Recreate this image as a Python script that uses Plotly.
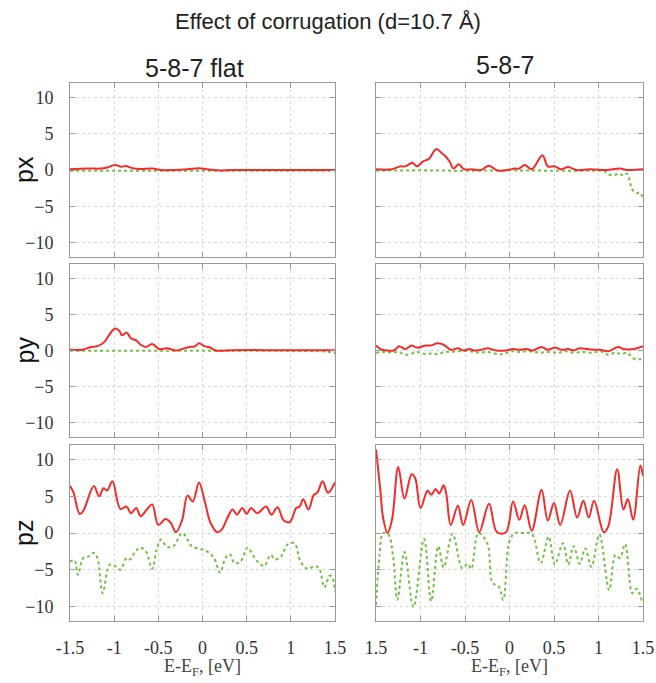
import plotly.graph_objects as go
from plotly.subplots import make_subplots

# ---------------- data (energy in eV, DOS values) ----------------
# Row px, flat
px_flat_red_x = [-1.5, -1.30, -1.15, -1.08, -0.99, -0.92, -0.87, -0.79, -0.70, -0.57, -0.47, -0.32, -0.17, -0.04, 0.05, 0.17, 0.35, 0.8, 1.2, 1.5]
px_flat_red_y = [0.1, 0.2, 0.2, 0.35, 0.7, 0.45, 0.55, 0.25, 0.15, 0.2, 0.0, 0.0, 0.1, 0.25, 0.1, -0.05, 0.0, 0.0, 0.0, 0.0]
px_flat_grn_x = [-1.5, -1.0, -0.5, 0.0, 0.5, 1.0, 1.5]
px_flat_grn_y = [-0.1, -0.1, -0.1, -0.1, -0.1, -0.1, -0.1]

# Row px, corrugated
px_corr_red_x = [-1.50, -1.32, -1.23, -1.17, -1.09, -1.04, -0.97, -0.91, -0.82, -0.76, -0.72, -0.67, -0.63, -0.57, -0.51, -0.42, -0.32, -0.23, -0.14, -0.04, 0.06, 0.11, 0.17, 0.25, 0.37, 0.43, 0.51, 0.58, 0.66, 0.75, 0.91, 1.09, 1.24, 1.32, 1.50]
px_corr_red_y = [0.1, 0.1, 0.5, 0.5, 1.0, 0.5, 1.2, 1.5, 2.9, 2.3, 1.9, 1.1, 0.2, 0.8, 0.1, 0.1, 0.0, 0.6, -0.05, -0.05, 0.2, 0.2, 0.7, 0.1, 2.05, 0.5, 0.5, 0.1, 0.4, 0.0, 0.1, 0.0, 0.2, 0.0, 0.1]
px_corr_grn_x = [-1.5, -1.0, -0.5, 0.0, 0.5, 1.0, 1.06, 1.11, 1.17, 1.24, 1.28, 1.32, 1.38, 1.43, 1.46, 1.50]
px_corr_grn_y = [-0.1, -0.05, -0.1, -0.05, -0.1, -0.1, -0.1, -0.6, -0.7, -0.5, -0.8, -0.5, -2.7, -3.2, -3.1, -3.8]

# Row py, flat
py_flat_red_x = [-1.50, -1.36, -1.26, -1.19, -1.11, -1.06, -0.99, -0.94, -0.91, -0.86, -0.81, -0.75, -0.70, -0.64, -0.57, -0.49, -0.40, -0.30, -0.23, -0.15, -0.09, -0.04, 0.02, 0.08, 0.15, 0.34, 0.72, 1.09, 1.50]
py_flat_red_y = [0.1, 0.1, 0.5, 0.6, 1.2, 2.1, 3.05, 2.7, 2.1, 2.5, 1.7, 1.4, 0.8, 0.5, 0.9, 0.2, 0.3, 0.0, 0.2, 0.5, 0.55, 1.0, 0.6, 0.45, 0.0, 0.05, 0.05, 0.05, 0.05]
py_flat_grn_x = [-1.5, -0.5, 0.0, 0.5, 1.0, 1.4, 1.5]
py_flat_grn_y = [-0.05, -0.05, -0.05, -0.05, -0.05, -0.15, -0.35]

# Row py, corrugated
py_corr_red_x = [-1.50, -1.45, -1.38, -1.30, -1.24, -1.17, -1.10, -1.04, -0.94, -0.88, -0.81, -0.74, -0.66, -0.58, -0.52, -0.45, -0.40, -0.32, -0.25, -0.15, -0.04, 0.04, 0.11, 0.19, 0.26, 0.36, 0.43, 0.51, 0.58, 0.66, 0.72, 0.79, 0.87, 0.94, 1.02, 1.11, 1.22, 1.28, 1.40, 1.50]
py_corr_red_y = [0.7, 0.2, 0.0, 0.0, 0.6, 0.2, 0.7, 0.4, 0.7, 0.7, 1.0, 0.8, 0.1, 0.3, 0.0, 0.2, 0.0, 0.1, 0.3, 0.0, 0.0, 0.2, 0.1, 0.2, 0.0, 0.5, 0.1, 0.4, 0.1, 0.2, 0.0, 0.3, 0.2, 0.1, 0.1, -0.1, 0.5, 0.2, 0.2, 0.6]
py_corr_grn_x = [-1.50, -1.40, -1.32, -1.25, -1.17, -1.09, -1.04, -0.94, -0.87, -0.79, -0.74, -0.66, -0.57, -0.45, -0.34, -0.25, -0.13, -0.06, 0.02, 0.11, 0.23, 0.34, 0.43, 0.55, 0.62, 0.72, 0.83, 0.94, 1.02, 1.11, 1.19, 1.26, 1.32, 1.39, 1.45, 1.50]
py_corr_grn_y = [-0.3, -0.2, -0.3, -0.2, -0.6, -0.4, -0.2, -0.5, -0.4, -0.5, -0.2, -0.2, -0.1, -0.1, -0.3, -0.2, -0.5, -0.5, -0.1, -0.2, -0.1, -0.3, -0.2, -0.3, -0.1, -0.3, -0.2, -0.3, -0.1, -0.6, -0.3, -0.5, -0.3, -1.1, -1.2, -1.2]

# Row pz, flat
pz_flat_red_x = [-1.50, -1.46, -1.39, -1.35, -1.23, -1.17, -1.12, -1.08, -1.02, -0.93, -0.86, -0.81, -0.75, -0.70, -0.63, -0.57, -0.50, -0.42, -0.36, -0.30, -0.23, -0.17, -0.11, -0.04, 0.03, 0.09, 0.17, 0.22, 0.28, 0.34, 0.39, 0.45, 0.50, 0.55, 0.62, 0.72, 0.78, 0.85, 0.92, 0.99, 1.06, 1.10, 1.14, 1.20, 1.26, 1.30, 1.36, 1.42, 1.50]
pz_flat_red_y = [6.45, 5.5, 2.6, 3.0, 6.4, 5.0, 6.1, 5.8, 7.05, 3.3, 3.6, 2.7, 3.4, 2.3, 3.2, 3.9, 1.1, 1.9, 1.4, 0.1, 1.8, 5.1, 4.3, 6.9, 4.1, 1.4, 0.1, 0.5, 2.0, 3.2, 2.5, 3.4, 2.6, 3.4, 2.7, 3.6, 2.5, 3.5, 1.7, 1.5, 3.4, 3.6, 4.6, 3.2, 5.2, 5.5, 7.05, 5.5, 6.9]
pz_flat_grn_x = [-1.50, -1.45, -1.41, -1.35, -1.29, -1.23, -1.19, -1.13, -1.05, -0.99, -0.93, -0.86, -0.82, -0.76, -0.70, -0.64, -0.57, -0.52, -0.47, -0.40, -0.33, -0.23, -0.17, -0.12, -0.02, 0.05, 0.13, 0.20, 0.26, 0.31, 0.36, 0.43, 0.51, 0.58, 0.64, 0.70, 0.77, 0.82, 0.89, 0.96, 1.04, 1.11, 1.19, 1.27, 1.32, 1.38, 1.44, 1.47, 1.50]
pz_flat_grn_y = [-3.9, -3.7, -5.7, -3.4, -3.2, -2.7, -3.4, -8.2, -4.3, -4.5, -5.0, -3.4, -3.6, -2.5, -2.0, -2.5, -4.9, -2.3, -0.9, -1.9, -1.8, 0.0, -0.9, -1.8, -2.2, -2.5, -3.4, -5.4, -3.4, -2.9, -4.1, -3.9, -2.0, -3.2, -4.1, -4.5, -3.0, -3.6, -3.2, -1.6, -1.4, -3.9, -4.9, -4.5, -4.8, -7.4, -5.8, -6.1, -8.0]

# Row pz, corrugated
pz_corr_red_x = [-1.50, -1.45, -1.42, -1.37, -1.32, -1.25, -1.18, -1.10, -1.06, -1.00, -0.92, -0.88, -0.83, -0.79, -0.74, -0.71, -0.66, -0.58, -0.52, -0.43, -0.34, -0.23, -0.14, -0.04, 0.04, 0.11, 0.17, 0.25, 0.36, 0.43, 0.50, 0.57, 0.68, 0.76, 0.83, 0.89, 0.95, 1.06, 1.11, 1.21, 1.28, 1.33, 1.39, 1.47, 1.50]
pz_corr_red_y = [11.4, 5.7, 2.05, 0.0, 1.8, 9.0, 4.7, 8.0, 7.5, 3.4, 5.8, 5.2, 6.0, 5.4, 6.5, 5.3, 1.1, 3.7, 1.1, 4.5, 0.1, 4.0, 0.1, 0.1, 4.3, 1.8, 3.8, 0.3, 5.9, 1.7, 4.1, 1.1, 5.8, 2.1, 4.4, 2.1, 4.4, 0.1, 0.9, 8.7, 3.2, 4.6, 1.8, 9.2, 7.8]
pz_corr_grn_x = [-1.50, -1.46, -1.42, -1.36, -1.31, -1.26, -1.18, -1.08, -0.96, -0.88, -0.80, -0.74, -0.64, -0.53, -0.47, -0.43, -0.35, -0.25, -0.19, -0.12, -0.07, 0.00, 0.06, 0.15, 0.25, 0.35, 0.44, 0.51, 0.60, 0.66, 0.72, 0.79, 0.85, 0.92, 1.01, 1.12, 1.19, 1.24, 1.30, 1.38, 1.43, 1.49]
pz_corr_grn_y = [-9.8, -3.0, 0.0, -0.2, -3.0, -9.1, -2.6, -10.1, -0.8, -9.3, -1.8, -4.7, -0.1, -4.8, -4.2, -4.9, 0.0, -1.4, -6.8, -7.3, -9.1, -1.1, 0.0, 0.0, -0.1, -4.1, -0.5, -4.3, -1.4, -4.3, -1.8, -4.2, -2.1, -4.6, -0.2, -7.8, -3.0, -3.4, -1.5, -8.2, -7.6, -9.4]

row_labels = ["px", "py", "pz"]
col_titles = ["5-8-7 flat", "5-8-7"]
main_title = "Effect of corrugation (d=10.7 Å)"
x_title = "E-E<sub>F</sub>, [eV]"
x_tickvals = [-1.5, -1, -0.5, 0, 0.5, 1, 1.5]
x_ticktext_left = ["-1.5", "-1", "-0.5", "0", "0.5", "1", "1.5"]
x_ticktext_right = ["1.5", "-1", "-0.5", "0", "0.5", "1", "1.5"]
y_tickvals = [-10, -5, 0, 5, 10]

panels = [
    [(px_flat_red_x, px_flat_red_y, px_flat_grn_x, px_flat_grn_y),
     (px_corr_red_x, px_corr_red_y, px_corr_grn_x, px_corr_grn_y)],
    [(py_flat_red_x, py_flat_red_y, py_flat_grn_x, py_flat_grn_y),
     (py_corr_red_x, py_corr_red_y, py_corr_grn_x, py_corr_grn_y)],
    [(pz_flat_red_x, pz_flat_red_y, pz_flat_grn_x, pz_flat_grn_y),
     (pz_corr_red_x, pz_corr_red_y, pz_corr_grn_x, pz_corr_grn_y)],
]

RED = "#f52a2a"
GREEN = "#72c043"
W, H = 656, 683

fig = make_subplots(rows=3, cols=2)

col_x = [(70, 335), (376, 643)]
row_y = [(83, 257), (264, 437), (445, 621)]

for r in range(3):
    for c in range(2):
        rx, ry, gx, gy = panels[r][c]
        fig.add_trace(go.Scatter(x=gx, y=gy, mode="lines", line=dict(color=GREEN, width=2, dash="dot", shape="spline", smoothing=1.0),
                                 showlegend=False, hoverinfo="skip"), row=r + 1, col=c + 1)
        fig.add_trace(go.Scatter(x=rx, y=ry, mode="lines", line=dict(color=RED, width=2, shape="spline", smoothing=1.0),
                                 showlegend=False, hoverinfo="skip"), row=r + 1, col=c + 1)
        x0, x1 = col_x[c]
        y0, y1 = row_y[r]
        xd = [x0 / W, x1 / W]
        yd = [1 - y1 / H, 1 - y0 / H]
        fig.update_xaxes(domain=xd, range=[-1.5, 1.5], tickvals=x_tickvals,
                         ticktext=(x_ticktext_left if c == 0 else x_ticktext_right),
                         showticklabels=(r == 2), ticks="inside", ticklen=5, tickcolor="#999",
                         mirror="allticks", showline=True, linecolor="#999", linewidth=1,
                         showgrid=True, gridcolor="#d8d8d8", griddash="dot", gridwidth=1,
                         zeroline=False, automargin=False, ticklabelstandoff=10,
                         tickfont=dict(family="Liberation Serif", size=18, color="#333"),
                         row=r + 1, col=c + 1)
        fig.update_yaxes(domain=yd, range=[-12, 12], tickvals=y_tickvals,
                         showticklabels=(c == 0), ticks="inside", ticklen=5, tickcolor="#999",
                         mirror="allticks", showline=True, linecolor="#999", linewidth=1,
                         showgrid=True, gridcolor="#d8d8d8", griddash="dot", gridwidth=1,
                         zeroline=False, automargin=False, ticklabelstandoff=12,
                         tickfont=dict(family="Liberation Serif", size=18, color="#333"),
                         row=r + 1, col=c + 1)

# row labels
for r in range(3):
    y0, y1 = row_y[r]
    fig.add_annotation(text=row_labels[r], x=24 / W, y=1 - ((y0 + y1) / 2) / H, xref="paper", yref="paper",
                       showarrow=False, textangle=-90, xanchor="center", yanchor="middle",
                       font=dict(family="Liberation Sans", size=25, color="#111"))

# x-axis titles
for c in range(2):
    x0, x1 = col_x[c]
    fig.add_annotation(text=x_title, x=((x0 + x1) / 2) / W, y=1 - 667 / H, xref="paper", yref="paper",
                       showarrow=False, xanchor="center", yanchor="middle",
                       font=dict(family="Liberation Serif", size=18, color="#444"))

fig.add_annotation(text=main_title, x=0.5, y=1 - 22 / H, xref="paper", yref="paper", showarrow=False,
                   font=dict(family="Liberation Sans", size=22, color="#222"), xanchor="center", yanchor="middle")
fig.add_annotation(text=col_titles[0], x=194 / W, y=1 - 68 / H, xref="paper", yref="paper", showarrow=False,
                   font=dict(family="Liberation Sans", size=25, color="#222"), xanchor="center", yanchor="middle")
fig.add_annotation(text=col_titles[1], x=505 / W, y=1 - 65 / H, xref="paper", yref="paper", showarrow=False,
                   font=dict(family="Liberation Sans", size=25, color="#222"), xanchor="center", yanchor="middle")

fig.update_layout(width=W, height=H, margin=dict(l=0, r=0, t=0, b=0),
                  paper_bgcolor="white", plot_bgcolor="white")

fig.write_html("out.html")
